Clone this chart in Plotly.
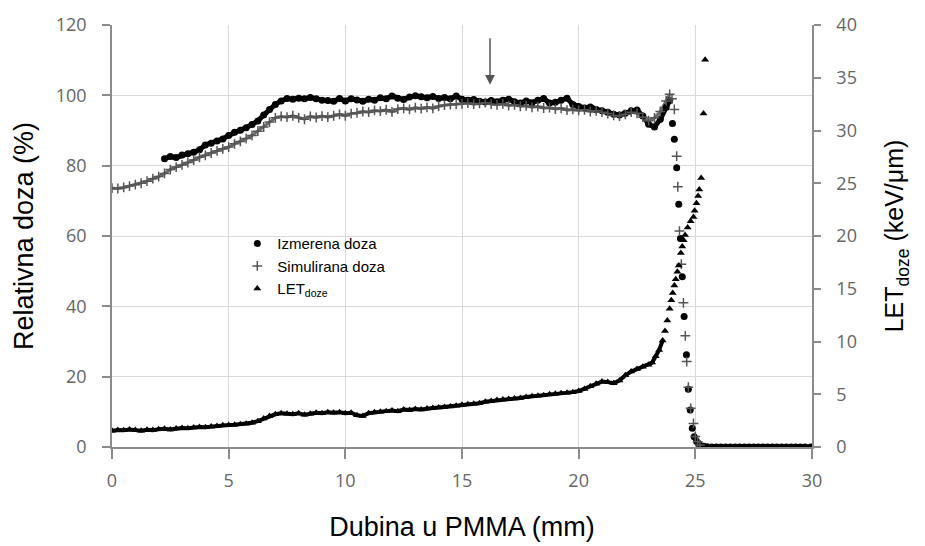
import plotly.graph_objects as go

# --- measured dose (circles), % ---
izm_x = [2.25, 2.5, 2.75, 3.0, 3.25, 3.5, 3.75, 4.0, 4.25, 4.5, 4.75, 5.0, 5.25, 5.5, 5.75,
         6.0, 6.25, 6.5, 6.75, 7.0, 7.25, 7.5, 7.75, 8.0, 8.25, 8.5, 8.75, 9.0, 9.25, 9.5, 9.75,
         10.0, 10.25, 10.5, 10.75, 11.0, 11.25, 11.5, 11.75, 12.0, 12.25, 12.5, 12.75, 13.0,
         13.25, 13.5, 13.75, 14.0, 14.25, 14.5, 14.75, 15.0, 15.25, 15.5, 15.75, 16.0, 16.25,
         16.5, 16.75, 17.0, 17.25, 17.5, 17.75, 18.0, 18.25, 18.5, 18.75, 19.0, 19.25, 19.5,
         19.75, 20.0, 20.25, 20.5, 20.75, 21.0, 21.25, 21.5, 21.75, 22.0, 22.25, 22.5, 22.75,
         23.0, 23.25, 23.5, 23.75, 23.9, 24.02, 24.1, 24.2, 24.29, 24.36, 24.44, 24.52, 24.62,
         24.7, 24.78, 24.87, 24.95, 25.05, 25.13, 25.2, 25.35, 25.5, 25.7, 25.9, 26.1, 26.3,
         26.5, 26.7, 26.9, 27.1, 27.3, 27.5, 27.7, 27.9, 28.1, 28.3, 28.5, 28.7, 28.9, 29.1,
         29.3, 29.5, 29.7, 29.95]
izm_y = [82.0, 82.6, 82.3, 83.0, 83.4, 83.8, 84.5, 85.9, 86.4, 87.0, 87.6, 88.6, 89.5, 90.1, 90.8,
         91.7, 92.7, 94.4, 96.0, 97.4, 98.4, 99.1, 98.9, 99.2, 99.0, 99.4, 99.0, 98.6, 98.5, 98.3, 99.1,
         98.4, 99.0, 98.7, 98.3, 98.9, 98.6, 99.3, 99.0, 99.8, 99.2, 98.8, 99.5, 99.9,
         99.6, 99.3, 99.7, 99.1, 99.4, 99.0, 99.8, 98.9, 98.6, 98.8, 98.3, 98.1, 98.5,
         98.2, 98.6, 98.9, 98.2, 97.8, 98.4, 97.9, 98.6, 99.1, 97.8, 98.0, 98.6, 99.2,
         97.4, 96.8, 96.4, 96.7, 96.0, 95.6, 95.2, 94.6, 94.4, 94.9, 95.6, 95.8, 94.1,
         91.8, 91.0, 93.2, 96.6, 98.5, 92.0, 87.5, 79.4, 69.0, 59.3, 48.4, 37.1, 26.2,
         16.4, 10.5, 5.3, 2.9, 1.6, 1.0, 0.5, 0.2, 0.1, 0, 0, 0, 0,
         0, 0, 0, 0, 0, 0, 0, 0, 0, 0, 0, 0, 0, 0,
         0, 0, 0, 0]

# --- simulated dose (plus), % ---
sim_x = [0.0, 0.25, 0.5, 0.75, 1.0, 1.25, 1.5, 1.75, 2.0, 2.25, 2.5, 2.75, 3.0, 3.25, 3.5, 3.75,
         4.0, 4.25, 4.5, 4.75, 5.0, 5.25, 5.5, 5.75, 6.0, 6.25, 6.5, 6.75, 7.0, 7.25, 7.5, 7.75,
         8.0, 8.25, 8.5, 8.75, 9.0, 9.25, 9.5, 9.75, 10.0, 10.25, 10.5, 10.75, 11.0, 11.25, 11.5,
         11.75, 12.0, 12.25, 12.5, 12.75, 13.0, 13.25, 13.5, 13.75, 14.0, 14.25, 14.5, 14.75,
         15.0, 15.25, 15.5, 15.75, 16.0, 16.25, 16.5, 16.75, 17.0, 17.25, 17.5, 17.75, 18.0,
         18.25, 18.5, 18.75, 19.0, 19.25, 19.5, 19.75, 20.0, 20.25, 20.5, 20.75, 21.0, 21.25,
         21.5, 21.75, 22.0, 22.25, 22.5, 22.75, 23.0, 23.25, 23.5, 23.75, 23.9, 24.0, 24.1,
         24.2, 24.25, 24.32, 24.4, 24.49, 24.57, 24.63, 24.7, 24.8, 24.92, 25.0, 25.1, 25.2]
sim_y = [73.6, 73.5, 73.8, 74.2, 74.6, 75.0, 75.6, 76.3, 76.9, 77.8, 78.9, 79.6, 80.2, 80.9, 81.6, 82.4,
         82.9, 83.6, 84.2, 84.8, 85.3, 86.2, 86.9, 87.7, 88.6, 89.8, 91.0, 92.4, 93.6, 94.0, 93.8, 94.2,
         93.6, 93.2, 94.0, 93.7, 94.1, 93.8, 94.2, 94.6, 94.2, 94.8, 95.0, 95.4, 95.2, 95.7, 95.5,
         95.9, 95.3, 96.1, 96.3, 96.0, 96.5, 96.2, 96.6, 96.3, 96.9, 97.2, 97.4, 97.5,
         97.6, 97.8, 97.5, 97.7, 97.9, 97.5, 97.3, 97.6, 97.1, 97.3, 96.9, 97.0, 96.6,
         96.8, 96.4, 96.5, 96.1, 96.3, 95.8, 96.0, 95.7, 95.9, 95.4, 95.6, 95.2, 94.8,
         94.3, 94.1, 94.6, 95.2, 94.9, 93.8, 92.8, 93.6, 95.4, 98.4, 100.3, 99.0, 96.0,
         82.7, 74.0, 61.4, 52.0, 41.0, 31.6, 24.3, 17.0, 11.0, 6.7, 3.0, 1.5, 0.6]

# --- LET_doze (triangles), keV/um ---
let_x = [0.0, 0.25, 0.5, 0.75, 1.0, 1.25, 1.5, 1.75, 2.0, 2.25, 2.5, 2.75, 3.0, 3.25, 3.5, 3.75,
         4.0, 4.25, 4.5, 4.75, 5.0, 5.25, 5.5, 5.75, 6.0, 6.25, 6.5, 6.75, 7.0, 7.25, 7.5, 7.75,
         8.0, 8.25, 8.5, 8.75, 9.0, 9.25, 9.5, 9.75, 10.0, 10.25, 10.5, 10.75, 11.0, 11.25, 11.5,
         11.75, 12.0, 12.25, 12.5, 12.75, 13.0, 13.25, 13.5, 13.75, 14.0, 14.25, 14.5, 14.75,
         15.0, 15.25, 15.5, 15.75, 16.0, 16.25, 16.5, 16.75, 17.0, 17.25, 17.5, 17.75, 18.0,
         18.25, 18.5, 18.75, 19.0, 19.25, 19.5, 19.75, 20.0, 20.25, 20.5, 20.75, 21.0, 21.25,
         21.5, 21.75, 22.0, 22.25, 22.5, 22.75, 23.0, 23.15, 23.3, 23.45, 23.6, 23.7, 23.8,
         23.9, 23.97, 24.03, 24.1, 24.16, 24.23, 24.29, 24.38, 24.44, 24.5, 24.56, 24.67, 24.8,
         24.92, 24.97, 25.05, 25.12, 25.17, 25.25, 25.35, 25.42]
let_y = [1.55, 1.62, 1.58, 1.65, 1.6, 1.55, 1.63, 1.6, 1.68, 1.72, 1.65, 1.75, 1.8, 1.78, 1.85, 1.9,
         1.88, 1.95, 2.0, 2.05, 2.08, 2.1, 2.15, 2.2, 2.3, 2.45, 2.7, 2.95, 3.1, 3.2, 3.15, 3.1,
         3.2, 3.05, 3.15, 3.25, 3.2, 3.3, 3.25, 3.3, 3.2, 3.25, 3.0, 2.95, 3.2, 3.3, 3.35,
         3.4, 3.45, 3.4, 3.55, 3.5, 3.6, 3.55, 3.65, 3.7, 3.75, 3.8, 3.85, 3.9,
         4.0, 4.05, 4.1, 4.15, 4.3, 4.35, 4.45, 4.5, 4.55, 4.6, 4.65, 4.75, 4.8,
         4.85, 4.9, 5.0, 5.05, 5.1, 5.15, 5.2, 5.3, 5.5, 5.75, 6.0, 6.2, 6.15,
         6.05, 6.3, 6.8, 7.15, 7.4, 7.6, 7.8, 8.0, 8.6, 9.2, 10.1, 11.0, 12.0,
         13.1, 13.9, 14.6, 15.3, 15.9, 16.6, 17.2, 18.4, 19.0, 19.6, 20.1, 20.8, 21.4,
         21.8, 22.4, 23.1, 23.8, 24.4, 25.5, 31.6, 36.7]


def band(xs, ys, keep):
    # dense-looking band drawn through the same points (gaps where keep() is False)
    bx, by, prev = [], [], True
    for x, y in zip(xs, ys):
        if keep(x):
            bx.append(x)
            by.append(y)
            prev = True
        elif prev:
            bx.append(None)
            by.append(None)
            prev = False
    return bx, by


fig = go.Figure()

bx, by = band(izm_x, izm_y, lambda x: x <= 23.9 or x >= 25.2)
fig.add_trace(go.Scatter(x=bx, y=by, mode="lines", showlegend=False, hoverinfo="skip",
                         line=dict(color="black", width=5)))
bx, by = band(sim_x, sim_y, lambda x: x <= 23.9)
fig.add_trace(go.Scatter(x=bx, y=by, mode="lines", showlegend=False, hoverinfo="skip",
                         line=dict(color="#6a6a6a", width=3)))
bx, by = band(let_x, let_y, lambda x: x <= 23.6)
fig.add_trace(go.Scatter(x=bx, y=by, mode="lines", showlegend=False, hoverinfo="skip",
                         yaxis="y2", line=dict(color="black", width=4)))

fig.add_trace(go.Scatter(x=izm_x, y=izm_y, mode="markers", name="Izmerena doza",
                         marker=dict(symbol="circle", size=7, color="black")))
fig.add_trace(go.Scatter(x=sim_x, y=sim_y, mode="markers", name="Simulirana doza",
                         marker=dict(symbol="cross-thin", size=7, color="#555555",
                                     line=dict(color="#555555", width=1.5))))
fig.add_trace(go.Scatter(x=let_x, y=let_y, mode="markers", name="LET<sub>doze</sub>",
                         yaxis="y2",
                         marker=dict(symbol="triangle-up", size=7, color="black")))

tick_font = dict(family="Open Sans, Liberation Sans, sans-serif", size=18, color="#666666")
title_font = dict(family="Liberation Sans, Arial, sans-serif", size=27, color="black")
axis_common = dict(showline=True, linecolor="#8c8c8c", linewidth=1.5, zeroline=False,
                   ticks="outside", tickcolor="#8c8c8c", tickwidth=1.5, tickfont=tick_font,
                   automargin=False)

# page body adds an 8px offset, so the figure is 8px smaller and margins shifted
fig.update_layout(
    width=917, height=538,
    margin=dict(l=104, r=113, t=17, b=99),
    plot_bgcolor="white", paper_bgcolor="white",
    showlegend=True,
    legend=dict(x=0.179, y=0.521, xanchor="left", yanchor="top",
                bgcolor="rgba(0,0,0,0)", tracegroupgap=0, itemwidth=30,
                font=dict(family="Liberation Sans, Arial, sans-serif", size=15, color="black")),
    xaxis=dict(range=[0, 30], dtick=5, showgrid=True, gridcolor="#d9d9d9", gridwidth=1,
               ticklen=10, ticklabelstandoff=7,
               title=dict(text="Dubina u PMMA (mm)", font=title_font, standoff=26),
               **axis_common),
    yaxis=dict(range=[0, 120], dtick=20, showgrid=True, gridcolor="#d9d9d9", gridwidth=1,
               ticklen=8, ticklabelstandoff=12,
               title=dict(text="Relativna doza (%)", font=title_font, standoff=14),
               **axis_common),
    yaxis2=dict(range=[0, 40], dtick=5, overlaying="y", side="right", showgrid=False,
                ticklen=7, ticklabelstandoff=12,
                title=dict(text="LET<sub>doze</sub> (keV/μm)", font=dict(
                    family="Liberation Sans, Arial, sans-serif", size=25, color="black"),
                    standoff=30),
                **axis_common),
)

fig.add_annotation(x=16.2, y=103, xref="x", yref="y", ax=0, ay=-48,
                   showarrow=True, arrowhead=2, arrowsize=1.3, arrowwidth=1.5,
                   arrowcolor="#555555", text="")

fig.write_html("out.html")
